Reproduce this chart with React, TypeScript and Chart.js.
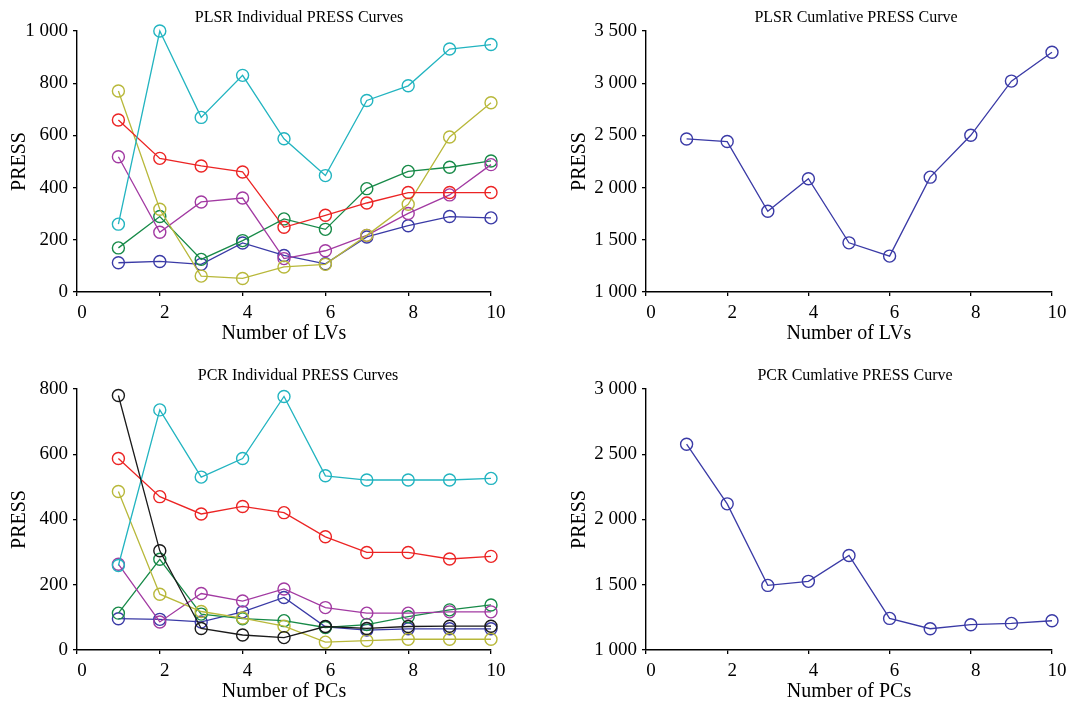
import React, { useEffect, useRef } from "react";
import { Chart, registerables } from "chart.js";
Chart.register(...registerables);

// ---------- data ----------
const components = [1, 2, 3, 4, 5, 6, 7, 8, 9, 10];

// PLSR individual PRESS curves
const plsrCyan = [260, 1000, 669, 830, 587, 446, 734, 790, 931, 948];
const plsrRed = [659, 512, 483, 460, 248, 294, 341, 381, 381, 381];
const plsrOlive = [770, 317, 61, 52, 96, 106, 217, 336, 594, 725];
const plsrPurple = [518, 229, 345, 360, 128, 158, 217, 301, 372, 488];
const plsrGreen = [169, 289, 125, 197, 280, 240, 396, 462, 478, 502];
const plsrBlue = [112, 117, 106, 188, 140, 108, 211, 254, 289, 284];

// PCR individual PRESS curves
const pcrBlack = [780, 304, 66, 46, 38, 72, 66, 72, 73, 73];
const pcrCyan = [259, 736, 530, 587, 777, 534, 521, 521, 521, 526];
const pcrRed = [587, 470, 417, 440, 421, 347, 299, 299, 279, 287];
const pcrOlive = [486, 171, 118, 98, 73, 24, 29, 33, 33, 33];
const pcrPurple = [263, 86, 173, 150, 187, 130, 113, 113, 117, 117];
const pcrGreen = [113, 278, 110, 96, 90, 69, 78, 102, 123, 138];
const pcrBlue = [96, 94, 86, 117, 161, 71, 61, 65, 65, 65];

// cumulative PRESS curves
const plsrCumulative = [2466, 2441, 1773, 2085, 1471, 1344, 2100, 2501, 3020, 3296];
const pcrCumulative = [2577, 2120, 1495, 1526, 1724, 1242, 1163, 1194, 1204, 1224];

// ---------- styles ----------
const CYAN = "#22b4c0";
const RED = "#ec2424";
const OLIVE = "#b8b83a";
const PURPLE = "#a23aa2";
const GREEN = "#178a48";
const BLUE = "#3a3aa6";
const BLACK = "#1a1a1a";
const FONT = '"Liberation Serif", "DejaVu Serif", serif';

const fmt = (v: number) => String(v).replace(/\B(?=(\d{3})+(?!\d))/g, " ");

const panelTitle = {
  id: "panelTitle",
  afterDraw(chart: any, _args: any, opts: any) {
    const { ctx, chartArea } = chart;
    ctx.save();
    ctx.font = `16px ${FONT}`;
    ctx.fillStyle = "#000";
    ctx.textAlign = "center";
    ctx.textBaseline = "middle";
    ctx.fillText(opts.text, (chartArea.left + chartArea.right) / 2 + opts.dx, chartArea.top - opts.dy);
    ctx.restore();
  },
};

type Series = { data: number[]; color: string };

type PanelProps = {
  left: number;
  top: number;
  width: number;
  height: number;
  title: string;
  titleDx: number;
  xTitle: string;
  series: Series[];
  yMin: number;
  yMax: number;
  yStep: number;
  yAxisWidth: number;
  yTitlePad: number;
  padRight: number;
};

function Panel(p: PanelProps) {
  const ref = useRef<HTMLCanvasElement>(null);
  useEffect(() => {
    if (!ref.current) return;
    const chart = new Chart(ref.current, {
      type: "line",
      data: {
        datasets: p.series.map((s) => ({
          data: components.map((c, i) => ({ x: c, y: s.data[i] })),
          borderColor: s.color,
          borderWidth: 1.3,
          pointRadius: 6,
          pointHoverRadius: 6,
          pointBorderWidth: 1.4,
          pointBorderColor: s.color,
          pointBackgroundColor: "rgba(0,0,0,0)",
          tension: 0,
          fill: false,
          clip: false as any,
        })),
      },
      options: {
        animation: false,
        responsive: false,
        maintainAspectRatio: false,
        layout: { padding: { top: 31, left: 0, right: p.padRight, bottom: 0 } },
        plugins: {
          legend: { display: false },
          tooltip: { enabled: false },
          title: { display: false },
          panelTitle: { text: p.title, dx: p.titleDx, dy: 13 },
        } as any,
        scales: {
          x: {
            type: "linear",
            min: 0,
            max: 10,
            ticks: {
              stepSize: 2,
              color: "#000",
              font: { family: FONT, size: 19 },
              padding: 6,
              labelOffset: 5,
              maxRotation: 0,
            },
            grid: { display: true, drawOnChartArea: false, drawTicks: true, tickLength: 4, color: "#000", lineWidth: 1.3 },
            border: { display: true, color: "#000", width: 1.4 },
            title: {
              display: true,
              text: p.xTitle,
              color: "#000",
              font: { family: FONT, size: 20 },
              padding: { top: 0, bottom: 4 },
            },
            afterFit: (scale: any) => {
              scale.height = 58;
            },
          },
          y: {
            type: "linear",
            min: p.yMin,
            max: p.yMax,
            ticks: {
              stepSize: p.yStep,
              color: "#000",
              font: { family: FONT, size: 19 },
              padding: 5,
              callback: (v: any) => fmt(Number(v)),
            },
            grid: { display: true, drawOnChartArea: false, drawTicks: true, tickLength: 4, color: "#000", lineWidth: 1.3 },
            border: { display: true, color: "#000", width: 1.4 },
            title: {
              display: true,
              text: "PRESS",
              color: "#000",
              font: { family: FONT, size: 20 },
              padding: { top: p.yTitlePad, bottom: 0 },
            },
            afterFit: (scale: any) => {
              scale.width = p.yAxisWidth;
            },
          },
        },
      },
      plugins: [panelTitle as any],
    });
    return () => chart.destroy();
  }, []);
  return (
    <canvas
      ref={ref}
      width={p.width}
      height={p.height}
      style={{ position: "absolute", left: p.left, top: p.top, width: p.width, height: p.height }}
    />
  );
}

export default function App() {
  return (
    <div
      style={{
        position: "absolute",
        left: 0,
        top: 0,
        width: 1076,
        height: 702,
        overflow: "hidden",
        background: "#fff",
      }}
    >
      <Panel
        left={0}
        top={0}
        width={538}
        height={350}
        title="PLSR Individual PRESS Curves"
        titleDx={15}
        xTitle="Number of LVs"
        series={[
          { data: plsrCyan, color: CYAN },
          { data: plsrRed, color: RED },
          { data: plsrOlive, color: OLIVE },
          { data: plsrPurple, color: PURPLE },
          { data: plsrGreen, color: GREEN },
          { data: plsrBlue, color: BLUE },
        ]}
        yMin={0}
        yMax={1000}
        yStep={200}
        yAxisWidth={77}
        yTitlePad={8}
        padRight={47}
      />
      <Panel
        left={540}
        top={0}
        width={536}
        height={350}
        title="PLSR Cumlative PRESS Curve"
        titleDx={7}
        xTitle="Number of LVs"
        series={[{ data: plsrCumulative, color: BLUE }]}
        yMin={1000}
        yMax={3500}
        yStep={500}
        yAxisWidth={106}
        yTitlePad={28}
        padRight={24}
      />
      <Panel
        left={0}
        top={358}
        width={538}
        height={350}
        title="PCR Individual PRESS Curves"
        titleDx={14}
        xTitle="Number of PCs"
        series={[
          { data: pcrBlack, color: BLACK },
          { data: pcrCyan, color: CYAN },
          { data: pcrRed, color: RED },
          { data: pcrOlive, color: OLIVE },
          { data: pcrPurple, color: PURPLE },
          { data: pcrGreen, color: GREEN },
          { data: pcrBlue, color: BLUE },
        ]}
        yMin={0}
        yMax={800}
        yStep={200}
        yAxisWidth={77}
        yTitlePad={8}
        padRight={47}
      />
      <Panel
        left={540}
        top={358}
        width={536}
        height={350}
        title="PCR Cumlative PRESS Curve"
        titleDx={6}
        xTitle="Number of PCs"
        series={[{ data: pcrCumulative, color: BLUE }]}
        yMin={1000}
        yMax={3000}
        yStep={500}
        yAxisWidth={106}
        yTitlePad={28}
        padRight={24}
      />
    </div>
  );
}
